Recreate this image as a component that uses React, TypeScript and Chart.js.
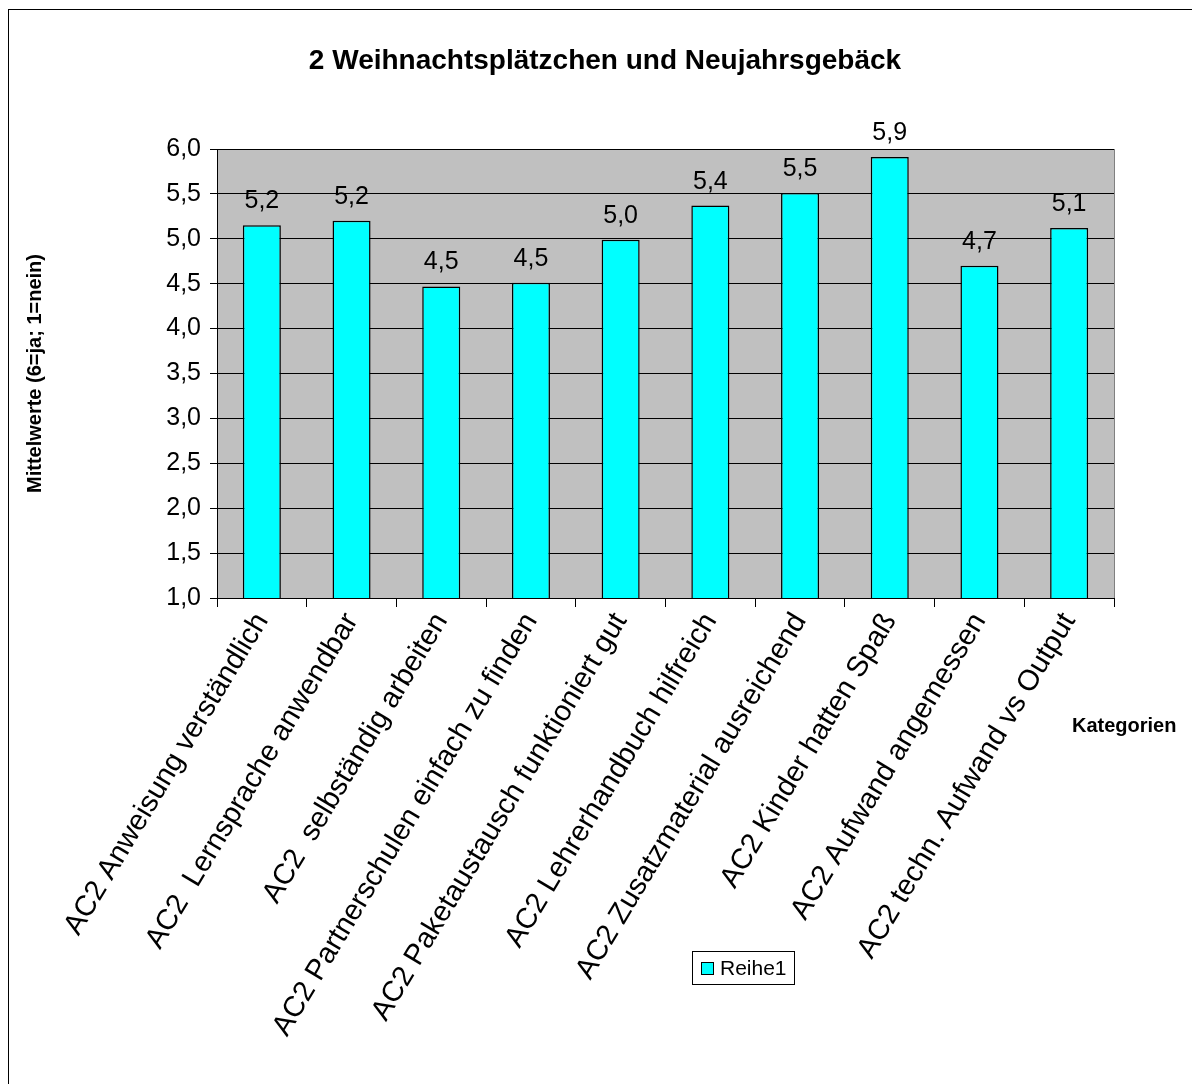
import React, { useEffect, useRef } from "react";
import { Chart, registerables } from "chart.js";

Chart.register(...registerables);

const categories = [
  "AC2 Anweisung verständlich",
  "AC2  Lernsprache anwendbar",
  "AC2  selbständig arbeiten",
  "AC2 Partnerschulen einfach zu finden",
  "AC2 Paketaustausch funktioniert gut",
  "AC2 Lehrerhandbuch hilfreich",
  "AC2 Zusatzmaterial ausreichend",
  "AC2 Kinder hatten Spaß",
  "AC2 Aufwand angemessen",
  "AC2 techn. Aufwand vs Output",
];
const values = [5.15, 5.2, 4.47, 4.51, 4.99, 5.37, 5.51, 5.91, 4.7, 5.12];
const seriesName = "Reihe1";
const chartTitle = "2 Weihnachtsplätzchen und Neujahrsgebäck";
const yAxisTitle = "Mittelwerte (6=ja; 1=nein)";
const xAxisTitle = "Kategorien";
const yMin = 1;
const yMax = 6;
const yStep = 0.5;

const FONT = "'Liberation Sans', Arial, sans-serif";
const fmt = (v: number) => v.toFixed(1).replace(".", ",");

const decorPlugin = {
  id: "decor",
  beforeDraw(chart: any) {
    const { ctx, chartArea } = chart;
    ctx.save();
    // outer frame
    ctx.strokeStyle = "#000";
    ctx.lineWidth = 1;
    ctx.strokeRect(8.5, 9.5, 1400, 1400);
    // plot area background
    ctx.fillStyle = "#C0C0C0";
    ctx.fillRect(chartArea.left, chartArea.top, chartArea.right - chartArea.left, chartArea.bottom - chartArea.top);
    ctx.strokeStyle = "#808080";
    ctx.strokeRect(chartArea.left + 0.5, chartArea.top + 0.5, chartArea.right - chartArea.left, chartArea.bottom - chartArea.top);
    // title
    ctx.fillStyle = "#000";
    ctx.font = `bold 28px ${FONT}`;
    ctx.textAlign = "center";
    ctx.textBaseline = "middle";
    ctx.fillText(chartTitle, 605, 61);
    ctx.restore();
  },
  afterDatasetsDraw(chart: any) {
    const { ctx } = chart;
    const meta = chart.getDatasetMeta(0);
    ctx.save();
    ctx.fillStyle = "#000";
    ctx.font = `25px ${FONT}`;
    ctx.textAlign = "center";
    ctx.textBaseline = "alphabetic";
    meta.data.forEach((el: any, i: number) => {
      const v = chart.data.datasets[0].data[i];
      ctx.fillText(fmt(v), el.x, el.y - 17);
    });
    ctx.restore();
  },
  afterDraw(chart: any) {
    const { ctx } = chart;
    ctx.save();
    // x axis title
    ctx.fillStyle = "#000";
    ctx.font = `bold 20px ${FONT}`;
    ctx.textAlign = "left";
    ctx.textBaseline = "middle";
    ctx.fillText(xAxisTitle, 1072, 726);
    // legend
    const ds = chart.data.datasets[0];
    ctx.fillStyle = "#fff";
    ctx.fillRect(692, 951, 102, 33);
    ctx.strokeStyle = "#000";
    ctx.lineWidth = 1;
    ctx.strokeRect(692.5, 951.5, 102, 33);
    ctx.fillStyle = ds.backgroundColor;
    ctx.fillRect(701.5, 962.5, 12, 12);
    ctx.strokeRect(701.5, 962.5, 12, 12);
    ctx.fillStyle = "#000";
    ctx.font = `21px ${FONT}`;
    ctx.textAlign = "left";
    ctx.textBaseline = "middle";
    ctx.fillText(ds.label, 720, 969);
    ctx.restore();
  },
};

export default function App() {
  const ref = useRef<HTMLCanvasElement>(null);
  useEffect(() => {
    if (!ref.current) return;
    const chart = new Chart(ref.current, {
      type: "bar",
      data: {
        labels: categories,
        datasets: [
          {
            label: seriesName,
            data: values,
            backgroundColor: "#00FFFF",
            borderColor: "#000",
            borderWidth: 1.5,
            categoryPercentage: 1,
            barPercentage: 0.424,
          },
        ],
      },
      plugins: [decorPlugin],
      options: {
        responsive: false,
        animation: false,
        devicePixelRatio: 1,
        layout: { padding: { left: 0, right: 78, top: 149, bottom: 0 } },
        plugins: {
          legend: { display: false },
          title: { display: false },
          tooltip: { enabled: false },
        },
        scales: {
          x: {
            grid: {
              display: true,
              drawOnChartArea: false,
              drawTicks: true,
              tickLength: 9,
              color: "#000",
              offset: true,
            },
            border: { display: true, color: "#000", width: 1 },
            ticks: {
              autoSkip: false,
              minRotation: 59,
              maxRotation: 59,
              padding: 0,
              color: "#000",
              font: { family: FONT, size: 29 },
            },
            afterFit(scale: any) {
              scale.height = 1084 - 598;
            },
          },
          y: {
            min: yMin,
            max: yMax,
            grid: {
              color: "#000",
              drawTicks: true,
              tickLength: 7,
            },
            border: { display: true, color: "#000", width: 1 },
            ticks: {
              stepSize: yStep,
              padding: 9,
              color: "#000",
              font: { family: FONT, size: 25 },
              callback: (v: any) => fmt(Number(v)),
            },
            title: {
              display: true,
              text: yAxisTitle,
              color: "#000",
              font: { family: FONT, size: 20, weight: "bold" },
              padding: { top: 23, bottom: 0 },
            },
            afterFit(scale: any) {
              scale.width = 217;
            },
          },
        },
      },
    });
    return () => chart.destroy();
  }, []);
  return (
    <div style={{ position: "absolute", left: 0, top: 0, width: 1192, height: 1084 }}>
      <canvas ref={ref} width={1192} height={1084} style={{ width: 1192, height: 1084 }} />
    </div>
  );
}
